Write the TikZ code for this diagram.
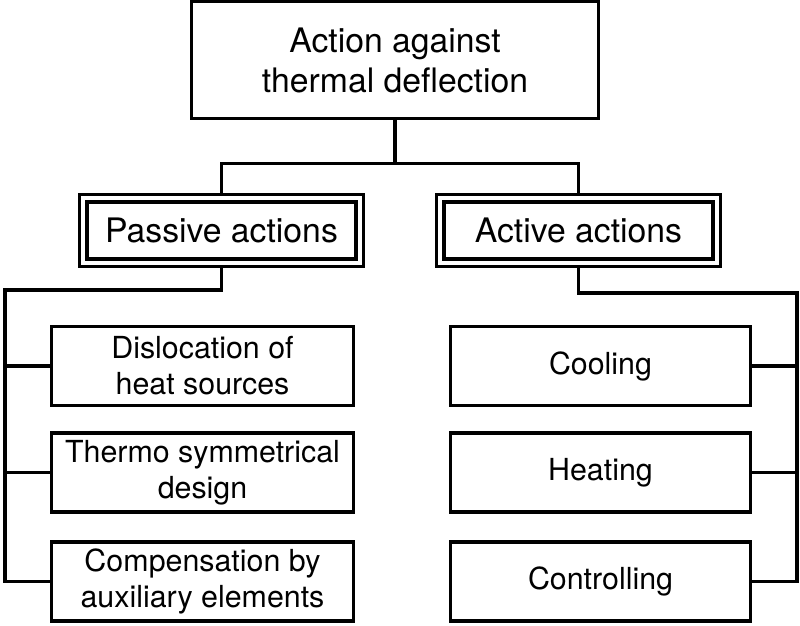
\documentclass[tikz,border=0pt]{standalone}
\usepackage{fontspec}
\setmainfont{TeX Gyre Heros}
\usepackage{tikz}
\usetikzlibrary{calc}

\begin{document}
\begin{tikzpicture}[x=0.025cm, y=-0.025cm,
        % Define styles for the boxes
        box/.style={draw, line width=0.08cm, align=center, inner sep=0pt,
            minimum height=1.975cm, font=\fontsize{21.6}{25.6}\selectfont},
        dbox/.style={draw, double, double distance=0.1cm, line width=0.08cm,
            outer sep=0.13cm, inner sep=0pt, minimum width=6.9cm, minimum height=1.6cm,
            font=\fontsize{24}{28.5}\selectfont},
        link/.style={line width=0.08cm}]

        % fix the size of the page
        \useasboundingbox (0,0) rectangle (800,625);

        % 1. The main box
        \node[draw, line width=0.08cm, align=center, inner sep=0pt,
            minimum width=10.175cm, minimum height=2.925cm,
            font=\fontsize{24}{28.5}\selectfont] (top) at (395,60)
            {Action against\\thermal deflection};

        % 2. The two groups
        \node[dbox] (passive) at (221.5,230.5) {Passive actions};
        \node[dbox] (active) at (578.5,230.5) {Active actions};

        % 3. Passive actions (left column)
        \node[box, minimum width=7.55cm] (dis) at (202.5,366) {Dislocation of\\heat sources};
        \node[box, minimum width=7.55cm] (sym) at (202.5,472.5) {Thermo symmetrical\\design};
        \node[box, minimum width=7.55cm] (comp) at (202.5,581.5) {Compensation by\\auxiliary elements};

        % 4. Active actions (right column)
        \node[box, minimum width=7.5cm] (cool) at (600.5,366) {Cooling};
        \node[box, minimum width=7.5cm] (heat) at (600.5,472.5) {Heating};
        \node[box, minimum width=7.5cm] (ctrl) at (600.5,581.5) {Controlling};

        % 5. Connect the main box with the groups
        \coordinate (split) at ($(top.south)+(0,43)$);
        \draw[link] (top.south) -- (split) -| (passive.north);
        \draw[link] (split) -| (active.north);

        % 6. Left bus
        \coordinate (lbus) at (5,290);
        \draw[link] (passive.south) |- (lbus) |- (comp.west);
        \draw[link] (lbus |- dis.west) -- (dis.west);
        \draw[link] (lbus |- sym.west) -- (sym.west);

        % 7. Right bus
        \coordinate (rbus) at (797,293);
        \draw[link] (active.south) |- (rbus) |- (ctrl.east);
        \draw[link] (rbus |- cool.east) -- (cool.east);
        \draw[link] (rbus |- heat.east) -- (heat.east);

    \end{tikzpicture}
\end{document}
